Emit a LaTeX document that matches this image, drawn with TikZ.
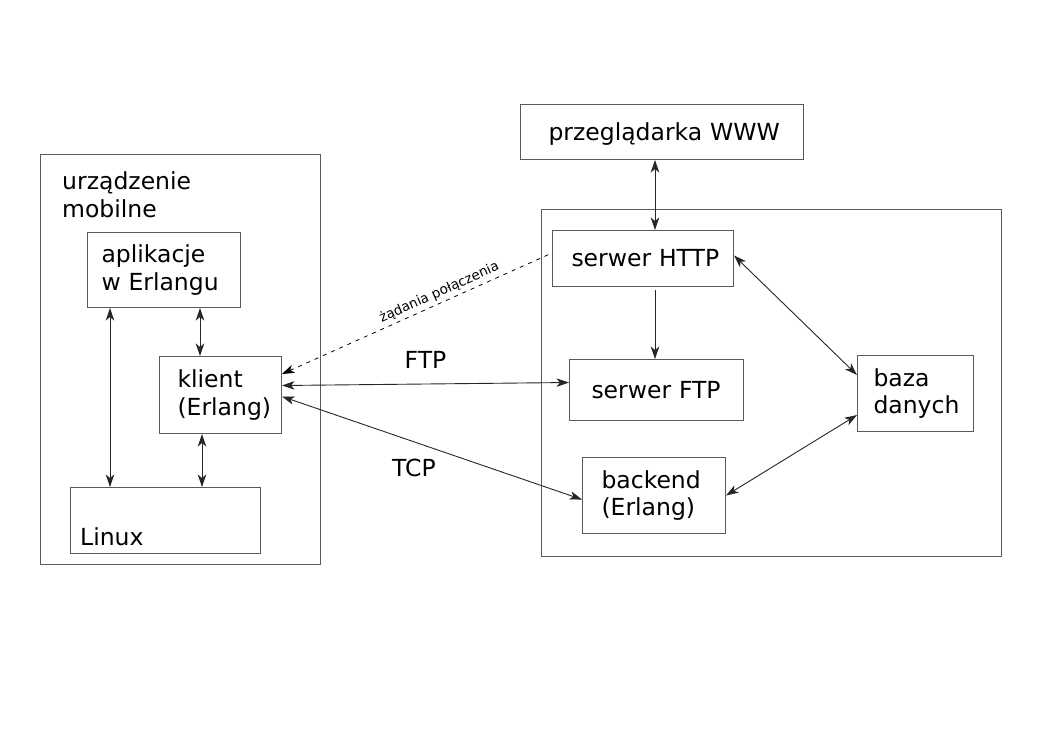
\documentclass[tikz,border=0pt]{standalone}
\usepackage{fontspec}
\setmainfont{DejaVu Sans}
\usepackage{tikz}
\usetikzlibrary{arrows.meta,positioning,calc}
\definecolor{netgray}{HTML}{5A5A5A}
\tikzset{
 net tip/.tip={Stealth[length=12.5pt,width=8.5pt,inset=3.5pt]},
 net flow/.style={net tip-net tip,line width=.9pt,draw=black!85},
 net oneway/.style={-net tip,line width=.9pt,draw=black!85},
 net request/.style={net tip-,line width=.8pt,draw=black,dash pattern=on 4pt off 5pt},
 net box/.style={draw=netgray,line width=1pt,anchor=north west,align=left,inner ysep=0pt},
 net frame/.style={draw=netgray,line width=1pt,anchor=north west,inner sep=0pt},
 net text/.style={inner sep=0pt,align=left}
}

\begin{document}
\begin{tikzpicture}[x=1pt,y=-1pt,font=\fontsize{23.5}{27.5}\selectfont]
\useasboundingbox (0,0) rectangle (1053,745);
% urzadzenie mobilne
\node[net frame,minimum width=280pt,minimum height=410pt] (mobile) at (40,154) {};
\node[net text,anchor=base west] (mobiletitle) at ([xshift=22pt,yshift=-63pt]mobile.north west)
 {urządzenie\\mobilne};
\node[net box,text width=125pt,inner xsep=14pt,minimum height=75pt] (apps) at (87,232)
 {aplikacje\\w~Erlangu};
\node[net box,text width=86pt,inner xsep=18pt,minimum height=77pt] (client) at (159,356)
 {klient\\(Erlang)};
\node[net frame,minimum width=190pt,minimum height=66pt] (linux) at (70,487) {};
\node[net text,anchor=base west] (linuxtext) at ([xshift=10pt,yshift=9pt]linux.south west) {Linux};
% serwer
\node[net box,text width=227pt,inner xsep=28pt,minimum height=55pt,text depth=0pt] (www) at (520,104)
 {przeglądarka~WWW};
\node[net frame,minimum width=460pt,minimum height=347pt] (server) at (541,209) {};
\node[net box,text width=143pt,inner xsep=19pt,minimum height=56pt] (http) at (552,230)
 {serwer~HTTP};
\node[net box,text width=130pt,inner xsep=22pt,minimum height=61pt] (ftp) at (569,359)
 {serwer~FTP};
\node[net box,text width=84pt,inner xsep=16pt,minimum height=76pt] (db) at (857,355)
 {baza\\danych};
\node[net box,text width=105pt,inner xsep=19pt,minimum height=76pt] (backend) at (582,457)
 {backend\\(Erlang)};
% polaczenia
\draw[net flow] ([xshift=23pt]apps.south west)--([xshift=40pt]linux.north west);
\draw[net flow] ([xshift=113pt]apps.south west)--([xshift=41pt]client.north west);
\draw[net flow] ([xshift=43pt]client.south west)--([xshift=132pt]linux.north west);
\draw[net flow] ([xshift=135pt]www.south west)--([xshift=103pt]http.north west);
\draw[net oneway] ([xshift=103pt,yshift=-3pt]http.south west)--([xshift=86pt]ftp.north west);
\draw[net flow] ([yshift=3pt]http.east)--([yshift=-20pt]db.north west);
\draw[net flow] (backend.east)--([yshift=17pt]db.south west);
\draw[net flow] ([yshift=9.5pt]client.east)
 --node[above=15pt,inner sep=0pt]{FTP}([yshift=7.5pt]ftp.west);
\draw[net flow] ([yshift=-1.5pt]client.east)
 --node[pos=.44,below=17pt,inner sep=0pt]{TCP}([yshift=-4pt]backend.west);
\draw[net request] ([yshift=21pt]client.east)
 --node[pos=.6,sloped,above=3pt,inner sep=0pt,font=\fontsize{13.5}{16}\selectfont]{żądania połączenia}
 ([xshift=-1pt,yshift=5pt]http.west);
\end{tikzpicture}
\end{document}
